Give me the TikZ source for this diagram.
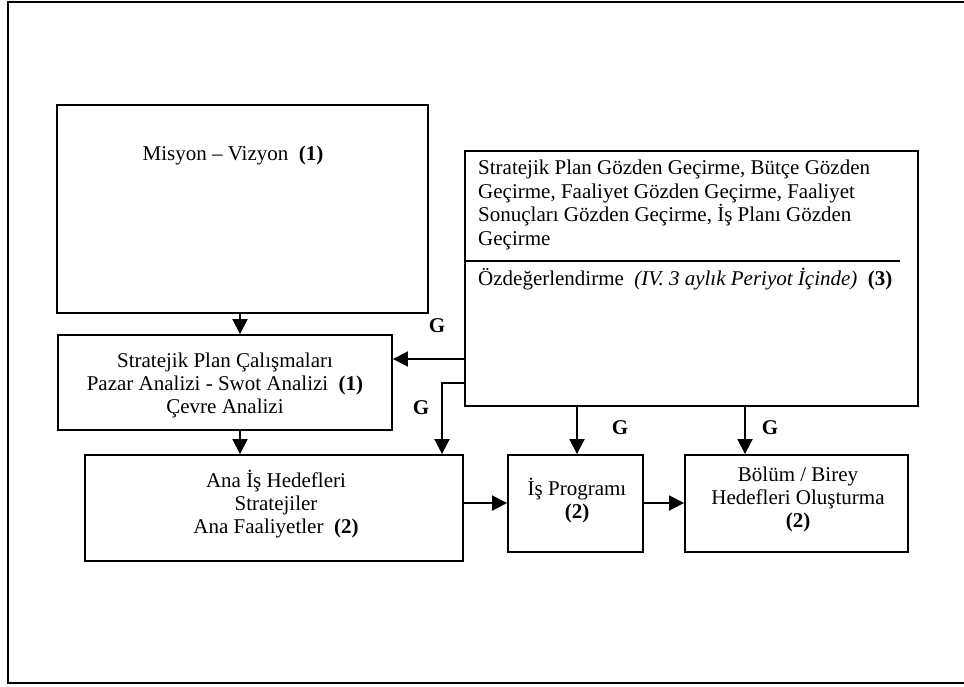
\documentclass[tikz,border=0pt]{standalone}
\usepackage{fontspec}
\setmainfont{Liberation Serif}
\usetikzlibrary{arrows.meta}
\begin{document}
\begin{tikzpicture}[x=1pt,y=-1pt,
 box/.style={draw,line width=1.9pt,inner sep=0pt},
 arr/.style={line width=1.9pt,-{Triangle[length=15pt,width=15pt]}},
 txt/.style={font=\fontsize{21}{23}\selectfont,align=center,inner sep=0pt},
 ltxt/.style={font=\fontsize{21}{23.5}\selectfont,align=left,inner sep=0pt},
 glab/.style={font=\fontsize{21}{23}\selectfont\bfseries,inner sep=0pt}]
\useasboundingbox (0,0) rectangle (964,686);
\draw[line width=1.9pt] (964,2) -- (8,2) -- (8,683) -- (964,683);
% boxes
\node[box,minimum width=371pt,minimum height=208pt] (mis) at (242.5,209) {};
\node[txt] (mist) at (233,155) {Misyon -- Vizyon\ \ \textbf{(1)}};
\node[box,minimum width=453pt,minimum height=255pt] (rb) at (691.5,278.5) {};
\node[ltxt,anchor=north west] (rbt) at (478,160) {Stratejik Plan Gözden Geçirme, Bütçe Gözden\\Geçirme, Faaliyet Gözden Geçirme, Faaliyet\\Sonuçları Gözden Geçirme, İş Planı Gözden\\Geçirme};
\coordinate (sepL) at (465,261);
\coordinate (sepR) at (900,261);
\draw[line width=1.4pt] (sepL) -- (sepR);
\node[ltxt,anchor=west] (rbo) at (478,279) {Özdeğerlendirme\ \ \textit{(IV. 3 aylık Periyot İçinde)}\ \ \textbf{(3)}};
\node[box,minimum width=334pt,minimum height=95pt] (sp) at (225,382.5) {};
\node[txt] (spt) at (225,385) {Stratejik Plan Çalışmaları\\Pazar Analizi - Swot Analizi\ \ \textbf{(1)}\\Çevre Analizi};
\node[box,minimum width=378pt,minimum height=106pt] (ana) at (274,508) {};
\node[txt] (anat) at (276,504) {Ana İş Hedefleri\\Stratejiler\\Ana Faaliyetler\ \ \textbf{(2)}};
\node[box,minimum width=135pt,minimum height=97pt] (isp) at (575.5,503.5) {};
\node[txt] (ispt) at (577,501) {İş Programı\\\textbf{(2)}};
\node[box,minimum width=223pt,minimum height=97pt] (bol) at (796.5,503.5) {};
\node[txt] (bolt) at (798,499) {Bölüm / Birey\\Hedefleri Oluşturma\\\textbf{(2)}};
% connectors
\draw[arr] (mis.south -| 240,0) -- (sp.north -| 240,0);
\draw[arr] (sp.south -| 240,0) -- (ana.north -| 240,0);
\coordinate (a1) at (465,359);
\draw[arr] (a1) -- (sp.east |- a1);
\coordinate (a2) at (465,383);
\coordinate (a2b) at (442,383);
\draw[arr] (a2) -- (a2b) -- (ana.north -| a2b);
\draw[arr] (rb.south -| 577,0) -- (isp.north -| 577,0);
\draw[arr] (rb.south -| 745,0) -- (bol.north -| 745,0);
\draw[arr] (ana.east |- 0,503) -- (isp.west |- 0,503);
\draw[arr] (isp.east |- 0,503) -- (bol.west |- 0,503);
% labels
\node[glab] (g1) at (437,326) {G};
\node[glab] (g2) at (421,408) {G};
\node[glab] (g3) at (620,428) {G};
\node[glab] (g4) at (770,428) {G};
\end{tikzpicture}
\end{document}
